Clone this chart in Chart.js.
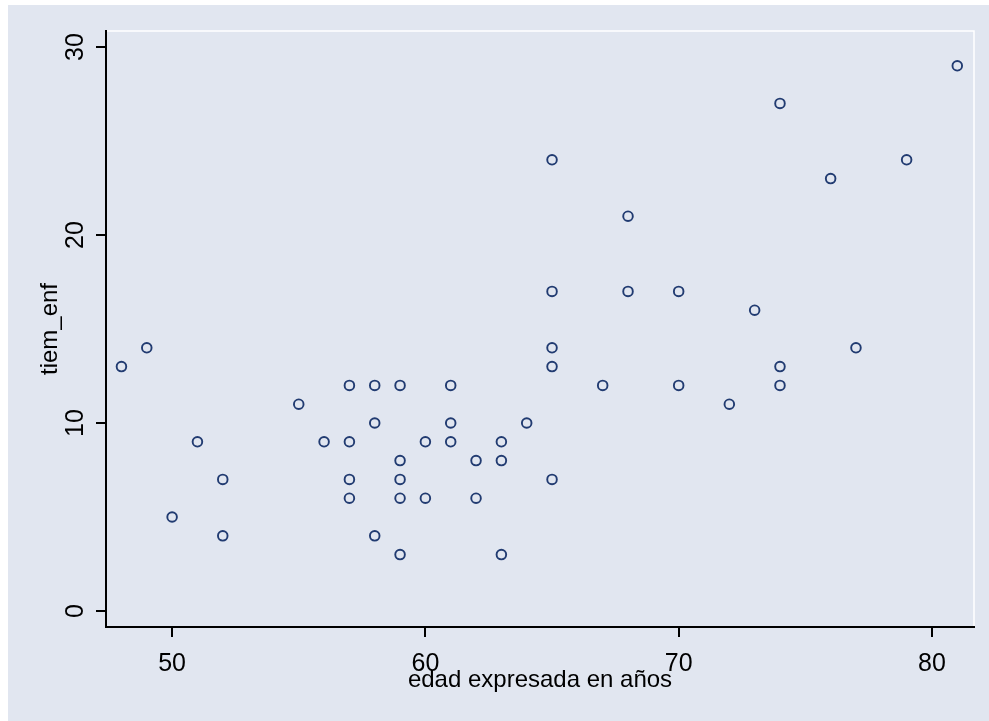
<!DOCTYPE html>
<html>
<head>
<meta charset="utf-8">
<script src="https://cdn.jsdelivr.net/npm/chart.js@4.4.1/dist/chart.umd.min.js"></script>
<style>
  html, body { margin: 0; padding: 0; background: #ffffff; }
  #wrap { position: absolute; left: 0; top: 0; width: 989px; height: 721px; }
  canvas { display: block; }
</style>
</head>
<body>
<div id="wrap"><canvas id="c" width="989" height="721"></canvas></div>
<script>
// ---- Data ----
const edad = [48, 49, 50, 51, 52, 52, 55, 56, 57, 57, 57, 57, 58, 58, 58, 59, 59, 59, 59, 59,
              60, 60, 61, 61, 61, 62, 62, 63, 63, 63, 64, 65, 65, 65, 65, 65, 67, 68, 68, 70,
              70, 72, 73, 74, 74, 74, 76, 77, 79, 81];
const tiemEnf = [13, 14, 5, 9, 7, 4, 11, 9, 12, 9, 7, 6, 12, 10, 4, 12, 8, 7, 6, 3,
                 9, 6, 12, 10, 9, 8, 6, 9, 8, 3, 10, 24, 17, 14, 13, 7, 12, 21, 17, 17,
                 12, 11, 16, 27, 13, 12, 23, 14, 24, 29];
const xTicks = [50, 60, 70, 80];
const xTickLabels = ['50', '60', '70', '80'];
const yTicks = [0, 10, 20, 30];
const yTickLabels = ['0', '10', '20', '30'];
const xTitle = 'edad expresada en años';
const yTitle = 'tiem_enf';

const points = edad.map((v, i) => ({ x: v, y: tiemEnf[i] }));

const BG = '#e1e6f0';
const MARKER = '#213b71';
const FONT = "'Liberation Sans', Arial, Helvetica, sans-serif";

const bgPlugin = {
  id: 'bg',
  beforeDraw(chart) {
    const ctx = chart.ctx;
    ctx.save();
    ctx.fillStyle = '#ffffff';
    ctx.fillRect(0, 0, chart.width, chart.height);
    ctx.fillStyle = BG;
    ctx.fillRect(8, 5, chart.width - 8, chart.height - 5);
    const a = chart.chartArea;
    ctx.strokeStyle = '#ffffff';
    ctx.lineWidth = 1.5;
    ctx.beginPath();
    ctx.moveTo(a.left, a.top);
    ctx.lineTo(a.right, a.top);
    ctx.lineTo(a.right, a.bottom);
    ctx.stroke();
    ctx.restore();
  }
};

new Chart(document.getElementById('c'), {
  type: 'scatter',
  data: {
    datasets: [{
      data: points,
      pointStyle: 'circle',
      pointRadius: 4.8,
      pointHoverRadius: 4.8,
      pointBorderWidth: 1.9,
      pointBorderColor: MARKER,
      pointBackgroundColor: 'rgba(0,0,0,0)',
      showLine: false
    }]
  },
  options: {
    responsive: false,
    devicePixelRatio: 1,
    animation: false,
    events: [],
    layout: { padding: { left: 0, right: 15, top: 31, bottom: 0 } },
    plugins: { legend: { display: false }, tooltip: { enabled: false } },
    scales: {
      x: {
        type: 'linear',
        position: 'bottom',
        min: 47.39,
        max: 81.66,
        afterBuildTicks: (s) => { s.ticks = xTicks.map(v => ({ value: v })); },
        afterFit: (s) => { s.height = 94; },
        ticks: {
          callback: (v) => xTickLabels[xTicks.indexOf(v)],
          font: { family: FONT, size: 25 },
          color: '#000000',
          padding: 12,
          maxRotation: 0,
          minRotation: 0,
          autoSkip: false
        },
        grid: { display: true, drawOnChartArea: false, drawTicks: true, tickLength: 10, color: '#000000', lineWidth: 2 },
        border: { display: true, color: '#000000', width: 2 },
        title: {
          display: true,
          text: xTitle,
          font: { family: FONT, size: 24 },
          color: '#000000',
          padding: { top: 0, bottom: 26 }
        }
      },
      y: {
        type: 'linear',
        position: 'left',
        min: -0.85,
        max: 30.85,
        afterBuildTicks: (s) => { s.ticks = yTicks.map(v => ({ value: v })); },
        afterFit: (s) => { s.width = 106; },
        ticks: {
          callback: (v) => yTickLabels[yTicks.indexOf(v)],
          font: { family: FONT, size: 25 },
          color: '#000000',
          padding: 6,
          minRotation: 90,
          maxRotation: 90,
          crossAlign: 'center',
          autoSkip: false
        },
        grid: { display: true, drawOnChartArea: false, drawTicks: true, tickLength: 10, color: '#000000', lineWidth: 2 },
        border: { display: true, color: '#000000', width: 2 },
        title: {
          display: true,
          text: yTitle,
          font: { family: FONT, size: 24 },
          color: '#000000',
          padding: { top: 36, bottom: 0 }
        }
      }
    }
  },
  plugins: [bgPlugin]
});
</script>
</body>
</html>
